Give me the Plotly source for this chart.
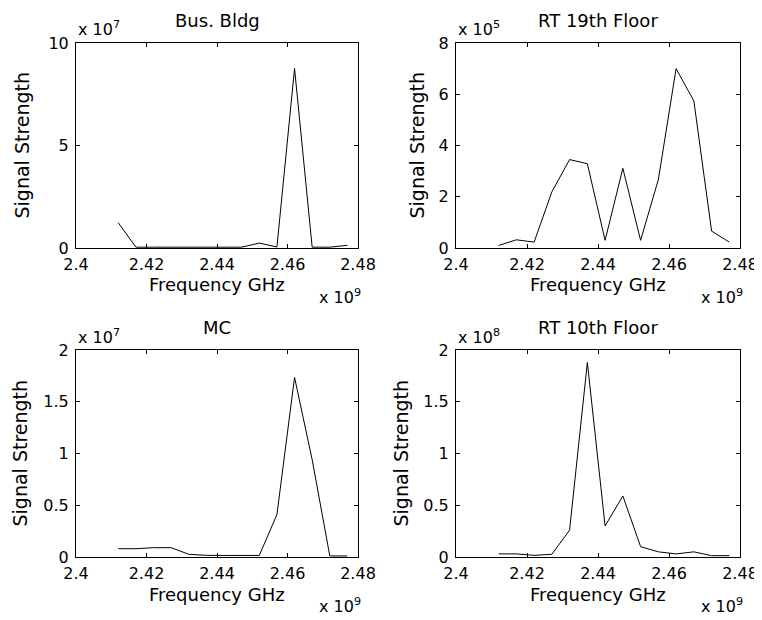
import plotly.graph_objects as go

# ---------------- data ----------------
freq_hz = [2.412e9, 2.417e9, 2.422e9, 2.427e9, 2.432e9, 2.437e9, 2.442e9,
           2.447e9, 2.452e9, 2.457e9, 2.462e9, 2.467e9, 2.472e9, 2.477e9]

bus_bldg = [1.23e7, 0.04e7, 0.04e7, 0.04e7, 0.04e7, 0.04e7, 0.04e7,
            0.04e7, 0.24e7, 0.05e7, 8.76e7, 0.04e7, 0.04e7, 0.13e7]
rt_19th = [0.10e5, 0.32e5, 0.23e5, 2.19e5, 3.45e5, 3.29e5, 0.30e5,
           3.11e5, 0.30e5, 2.67e5, 7.00e5, 5.74e5, 0.66e5, 0.23e5]
mc = [0.08e7, 0.08e7, 0.09e7, 0.09e7, 0.026e7, 0.016e7, 0.015e7,
      0.015e7, 0.015e7, 0.41e7, 1.735e7, 0.94e7, 0.01e7, 0.01e7]
rt_10th = [0.03e8, 0.03e8, 0.016e8, 0.026e8, 0.26e8, 1.88e8, 0.30e8,
           0.59e8, 0.10e8, 0.05e8, 0.03e8, 0.05e8, 0.013e8, 0.013e8]

titles = ["Bus. Bldg", "RT 19th Floor", "MC", "RT 10th Floor"]
series = [bus_bldg, rt_19th, mc, rt_10th]
y_exponents = [7, 5, 7, 8]
y_ticks = [[0, 5, 10], [0, 2, 4, 6, 8], [0, 0.5, 1, 1.5, 2], [0, 0.5, 1, 1.5, 2]]
y_tick_text = [["0", "5", "10"], ["0", "2", "4", "6", "8"],
               ["0", "0.5", "1", "1.5", "2"], ["0", "0.5", "1", "1.5", "2"]]
x_ticks = [2.40, 2.42, 2.44, 2.46, 2.48]
x_tick_text = ["2.4", "2.42", "2.44", "2.46", "2.48"]
x_exponent = 9
x_label = "Frequency GHz"
y_label = "Signal Strength"

# ---------------- layout (page-pixel geometry) ----------------
PAGE_W, PAGE_H = 762, 620
OFF = 8                      # default body margin of the html page
W, H = PAGE_W - OFF, PAGE_H - OFF
FONT = "DejaVu Sans"
# plot boxes in page pixels: (left, right, top, bottom)
boxes = [(76, 358, 43, 248), (456, 740, 43, 248),
         (76, 358, 350, 557), (456, 740, 350, 557)]
ylabel_x = [21, 416, 19, 400]

def px(x):
    return (x - OFF) / W

def py(y):
    return 1 - (y - OFF) / H

fig = go.Figure()
annotations = []
for i, (name, vals, ex) in enumerate(zip(titles, series, y_exponents)):
    n = i + 1
    xa = "x" if n == 1 else f"x{n}"
    ya = "y" if n == 1 else f"y{n}"
    fig.add_trace(go.Scatter(x=freq_hz, y=vals, mode="lines",
                             line=dict(color="black", width=1),
                             xaxis=xa, yaxis=ya, showlegend=False))
    l, r, t, b = boxes[i]
    axis_common = dict(showline=True, linecolor="black", linewidth=1,
                       mirror="ticks", ticks="inside", ticklen=4,
                       tickcolor="black", tickwidth=1, showgrid=False,
                       zeroline=False, automargin=False,
                       tickfont=dict(family=FONT, size=16, color="black"))
    xkey = "xaxis" if n == 1 else f"xaxis{n}"
    ykey = "yaxis" if n == 1 else f"yaxis{n}"
    fig.layout[xkey] = dict(domain=[px(l), px(r)], anchor=ya,
                            range=[x_ticks[0] * 1e9, x_ticks[-1] * 1e9],
                            tickvals=[v * 10 ** x_exponent for v in x_ticks],
                            ticktext=x_tick_text, ticklabelstandoff=2,
                            **axis_common)
    fig.layout[ykey] = dict(domain=[py(b), py(t)], anchor=xa,
                            range=[0, y_ticks[i][-1] * 10 ** ex],
                            tickvals=[v * 10 ** ex for v in y_ticks[i]],
                            ticktext=y_tick_text[i], ticklabelstandoff=3,
                            **axis_common)
    cx = (l + r) / 2
    annotations += [
        dict(text=name, x=px(cx), y=py(t - 23), xref="paper", yref="paper",
             showarrow=False, xanchor="center", yanchor="middle",
             font=dict(family=FONT, size=18, color="black")),
        dict(text=f"x 10<sup>{ex}</sup>", x=px(l), y=py(t - 14), xref="paper",
             yref="paper", showarrow=False, xanchor="left", yanchor="middle",
             font=dict(family=FONT, size=16, color="black")),
        dict(text=x_label, x=px(cx), y=py(b + 37), xref="paper", yref="paper",
             showarrow=False, xanchor="center", yanchor="middle",
             font=dict(family=FONT, size=18, color="black")),
        dict(text=f"x 10<sup>{x_exponent}</sup>", x=px(r + 5), y=py(b + 48),
             xref="paper", yref="paper", showarrow=False, xanchor="right",
             yanchor="middle", font=dict(family=FONT, size=16, color="black")),
        dict(text=y_label, x=px(ylabel_x[i]), y=py((t + b) / 2), xref="paper",
             yref="paper", showarrow=False, xanchor="center", yanchor="middle",
             textangle=-90, font=dict(family=FONT, size=19, color="black")),
    ]

fig.update_layout(width=W, height=H, margin=dict(l=0, r=0, t=0, b=0, pad=0),
                  paper_bgcolor="white", plot_bgcolor="white",
                  annotations=annotations, showlegend=False)
fig.write_html("out.html")
